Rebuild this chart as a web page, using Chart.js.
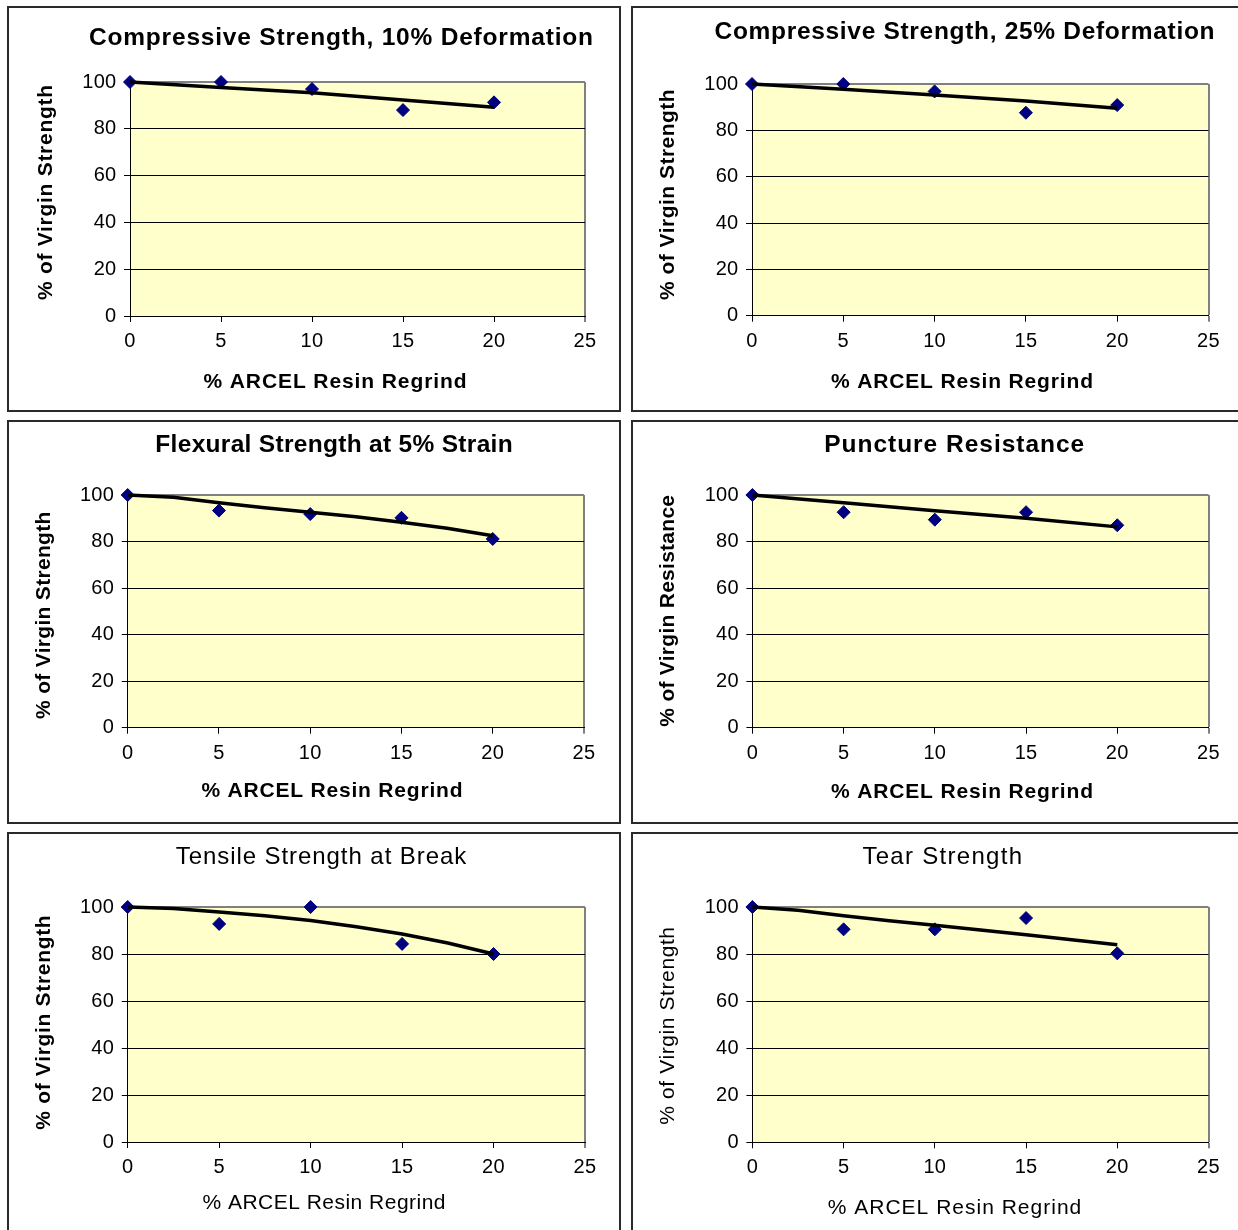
<!DOCTYPE html>
<html>
<head>
<meta charset="utf-8">
<script src="https://cdn.jsdelivr.net/npm/chart.js@4.4.1/dist/chart.umd.min.js"></script>
<style>
html, body { margin: 0; padding: 0; background: #fff; overflow: hidden; width: 1238px; height: 1230px; }
.panel { position: absolute; box-sizing: border-box; border: 2px solid #2a2a2a; background: #fff; overflow: hidden; }
.panel canvas { position: absolute; left: 0; top: 0; }
</style>
</head>
<body>
<script>
// ---------- data ----------
const xValues = [0, 5, 10, 15, 20];
const trendX5 = [0, 5, 10, 15, 20];
const trendX9 = [0, 2.5, 5, 7.5, 10, 12.5, 15, 17.5, 20];
const xTickValues = [0, 5, 10, 15, 20, 25];
const yTickValues = [0, 20, 40, 60, 80, 100];

const xAxisTitle = '% ARCEL Resin Regrind';

const comp10Title = 'Compressive Strength, 10% Deformation';
const comp10Points = [100, 100, 97, 88, 91.3];
const comp10Trend = [100, 97.7, 95.4, 92.3, 89.2];

const comp25Title = 'Compressive Strength, 25% Deformation';
const comp25Points = [100, 100, 96.8, 87.6, 90.9];
const comp25Trend = [100, 97.7, 95.3, 92.7, 89.5];

const flexTitle = 'Flexural Strength at 5% Strain';
const flexPoints = [100, 93.3, 91.8, 90.2, 81.1];
const flexTrend = [100, 99.0, 96.7, 94.5, 92.6, 90.7, 88.3, 85.7, 82.5];

const punctTitle = 'Puncture Resistance';
const punctPoints = [100, 92.6, 89.4, 92.6, 87.0];
const punctTrend = [100, 96.7, 93.2, 90.0, 86.3];

const tensTitle = 'Tensile Strength at Break';
const tensPoints = [100, 92.8, 100, 84.3, 80.0];
const tensTrend = [100, 99.4, 97.9, 96.3, 94.3, 91.6, 88.5, 84.7, 80.0];

const tearTitle = 'Tear Strength';
const tearPoints = [100, 90.5, 90.5, 95.3, 80.3];
const tearTrend = [100, 98.6, 96.3, 94.2, 92.2, 90.2, 88.2, 86.1, 84.0];

// ---------- layout / styling ----------
const FAM = '"Liberation Sans", Arial, Helvetica, sans-serif';
const BT = 'bold 24.5px ' + FAM;
const BA = 'bold 21px ' + FAM;
const RT = '24px ' + FAM;
const RA = '21px ' + FAM;

const panels = [
  { box: {left: 7, top: 6, w: 614, h: 406}, plot: {l: 121, r: 576, t: 74, b: 308},
    title: {text: comp10Title, x: 332, y: 36.5, w: 504, font: BT},
    xt: {x: 326, y: 380.3, w: 263, font: BA},
    yt: {text: '% of Virgin Strength', x: 43.3, y: 184.5, w: 215, font: BA},
    points: comp10Points, tx: trendX5, trend: comp10Trend },
  { box: {left: 631, top: 6, w: 614, h: 406}, plot: {l: 119, r: 575.5, t: 76, b: 307.7},
    title: {text: comp25Title, x: 331.5, y: 30.8, w: 500, font: BT},
    xt: {x: 329, y: 379.7, w: 262, font: BA},
    yt: {text: '% of Virgin Strength', x: 41.2, y: 186.7, w: 210.7, font: BA},
    points: comp25Points, tx: trendX5, trend: comp25Trend },
  { box: {left: 7, top: 420, w: 614, h: 404}, plot: {l: 118.7, r: 575, t: 73, b: 305.7},
    title: {text: flexTitle, x: 325, y: 29.5, w: 357.3, font: BT},
    xt: {x: 323, y: 374.7, w: 261, font: BA},
    yt: {text: '% of Virgin Strength', x: 41.4, y: 193.3, w: 207.3, font: BA},
    points: flexPoints, tx: trendX9, trend: flexTrend },
  { box: {left: 631, top: 420, w: 614, h: 404}, plot: {l: 119.4, r: 575.5, t: 73, b: 305.7},
    title: {text: punctTitle, x: 321.2, y: 29.5, w: 260, font: BT},
    xt: {x: 329, y: 376.3, w: 262, font: BA},
    yt: {text: '% of Virgin Resistance', x: 41.2, y: 188.8, w: 231.7, font: BA},
    points: punctPoints, tx: trendX5, trend: punctTrend },
  { box: {left: 7, top: 832, w: 614, h: 410}, plot: {l: 118.7, r: 576, t: 73, b: 308},
    title: {text: tensTitle, x: 312, y: 29.5, w: 290.5, font: RT},
    xt: {x: 315, y: 375, w: 243, font: RA},
    yt: {text: '% of Virgin Strength', x: 41.4, y: 188.5, w: 214.4, font: BA},
    points: tensPoints, tx: trendX9, trend: tensTrend },
  { box: {left: 631, top: 832, w: 614, h: 410}, plot: {l: 119.4, r: 575.5, t: 73, b: 308.3},
    title: {text: tearTitle, x: 309.2, y: 29.5, w: 159.6, font: RT},
    xt: {x: 321.5, y: 379.7, w: 253.5, font: RA},
    yt: {text: '% of Virgin Strength', x: 41.2, y: 191.8, w: 197.7, font: RA},
    points: tearPoints, tx: trendX9, trend: tearTrend }
];

// ---------- plugins ----------
const plotBg = {
  id: 'plotBg',
  beforeDraw(chart) {
    const {ctx, chartArea: a} = chart;
    ctx.save();
    ctx.fillStyle = '#FFFFCC';
    ctx.fillRect(a.left, a.top, a.right - a.left, a.bottom - a.top);
    ctx.restore();
    ctx.letterSpacing = '0.3px';
  }
};

function drawFitText(ctx, text, x, y, target, font, rotate) {
  ctx.save();
  ctx.font = font;
  ctx.fillStyle = '#000';
  ctx.letterSpacing = '0px';
  const n = Array.from(text).length;
  const w0 = ctx.measureText(text).width;
  const ls = n > 1 ? Math.max(0, (target - w0) / (n - 1)) : 0;
  ctx.letterSpacing = ls + 'px';
  ctx.textAlign = 'left';
  ctx.textBaseline = 'alphabetic';
  ctx.translate(x, y);
  if (rotate) ctx.rotate(-Math.PI / 2);
  const vis = w0 + ls * (n - 1);
  ctx.fillText(text, -vis / 2, 0);
  ctx.restore();
}

const panelText = {
  id: 'panelText',
  afterDraw(chart, args, o) {
    const ctx = chart.ctx;
    drawFitText(ctx, o.title.text, o.title.x, o.title.y, o.title.w, o.title.font, false);
    drawFitText(ctx, xAxisTitle, o.xt.x, o.xt.y, o.xt.w, o.xt.font, false);
    drawFitText(ctx, o.yt.text, o.yt.x, o.yt.y, o.yt.w, o.yt.font, true);
  }
};

// ---------- build ----------
function makeChart(p) {
  const div = document.createElement('div');
  div.className = 'panel';
  div.style.left = p.box.left + 'px';
  div.style.top = p.box.top + 'px';
  div.style.width = p.box.w + 'px';
  div.style.height = p.box.h + 'px';
  const cw = p.box.w - 4, ch = p.box.h - 4;
  const canvas = document.createElement('canvas');
  canvas.width = cw; canvas.height = ch;
  canvas.style.width = cw + 'px'; canvas.style.height = ch + 'px';
  div.appendChild(canvas);
  document.body.appendChild(div);

  const tickFont = {family: FAM, size: 20};

  new Chart(canvas, {
    type: 'scatter',
    data: {
      datasets: [
        { type: 'line', label: 'Trend',
          data: p.tx.map((x, i) => ({x: x, y: p.trend[i]})),
          borderColor: '#000', borderWidth: 3.5, pointRadius: 0, fill: false,
          tension: 0, clip: false, order: 0, borderCapStyle: 'butt', borderJoinStyle: 'round' },
        { type: 'scatter', label: 'Measured',
          data: xValues.map((x, i) => ({x: x, y: p.points[i]})),
          pointStyle: 'rectRot', pointRadius: 6.5, backgroundColor: '#000080',
          borderColor: '#000080', borderWidth: 1, clip: false, order: 1 }
      ]
    },
    options: {
      responsive: false, animation: false, events: [],
      layout: { padding: { left: 0, top: p.plot.t, right: cw - p.plot.r, bottom: 0 } },
      plugins: {
        legend: {display: false}, tooltip: {enabled: false}, title: {display: false},
        panelText: { title: p.title, xt: p.xt, yt: p.yt }
      },
      scales: {
        x: {
          type: 'linear', min: 0, max: 25,
          afterBuildTicks: s => { s.ticks = xTickValues.map(v => ({value: v})); },
          afterFit: s => { s.height = ch - p.plot.b; },
          grid: {
            color: c => (c.tick && c.tick.value === 25) ? '#808080' : 'rgba(0,0,0,0)',
            lineWidth: c => (c.tick && c.tick.value === 25) ? 2 : 1,
            tickColor: '#000', tickWidth: 1, tickLength: 6, drawOnChartArea: true, drawTicks: true
          },
          border: {display: true, color: '#000', width: 1},
          ticks: {color: '#000', font: tickFont, padding: 7.5, maxRotation: 0, autoSkip: false},
          title: {display: false}
        },
        y: {
          type: 'linear', min: 0, max: 100,
          afterBuildTicks: s => { s.ticks = yTickValues.map(v => ({value: v})); },
          afterFit: s => { s.width = p.plot.l; },
          grid: {
            color: c => {
              const v = c.tick ? c.tick.value : null;
              if (v === 100) return '#808080';
              if (v === 0) return 'rgba(0,0,0,0)';
              return '#000';
            },
            lineWidth: c => (c.tick && c.tick.value === 100) ? 2 : 1,
            tickColor: '#000', tickWidth: 1, tickLength: 6, drawTicks: true
          },
          border: {display: true, color: '#000', width: 1},
          ticks: {color: '#000', font: tickFont, padding: 7.5, autoSkip: false},
          title: {display: false}
        }
      }
    },
    plugins: [plotBg, panelText]
  });
}

panels.forEach(makeChart);
</script>
</body>
</html>
